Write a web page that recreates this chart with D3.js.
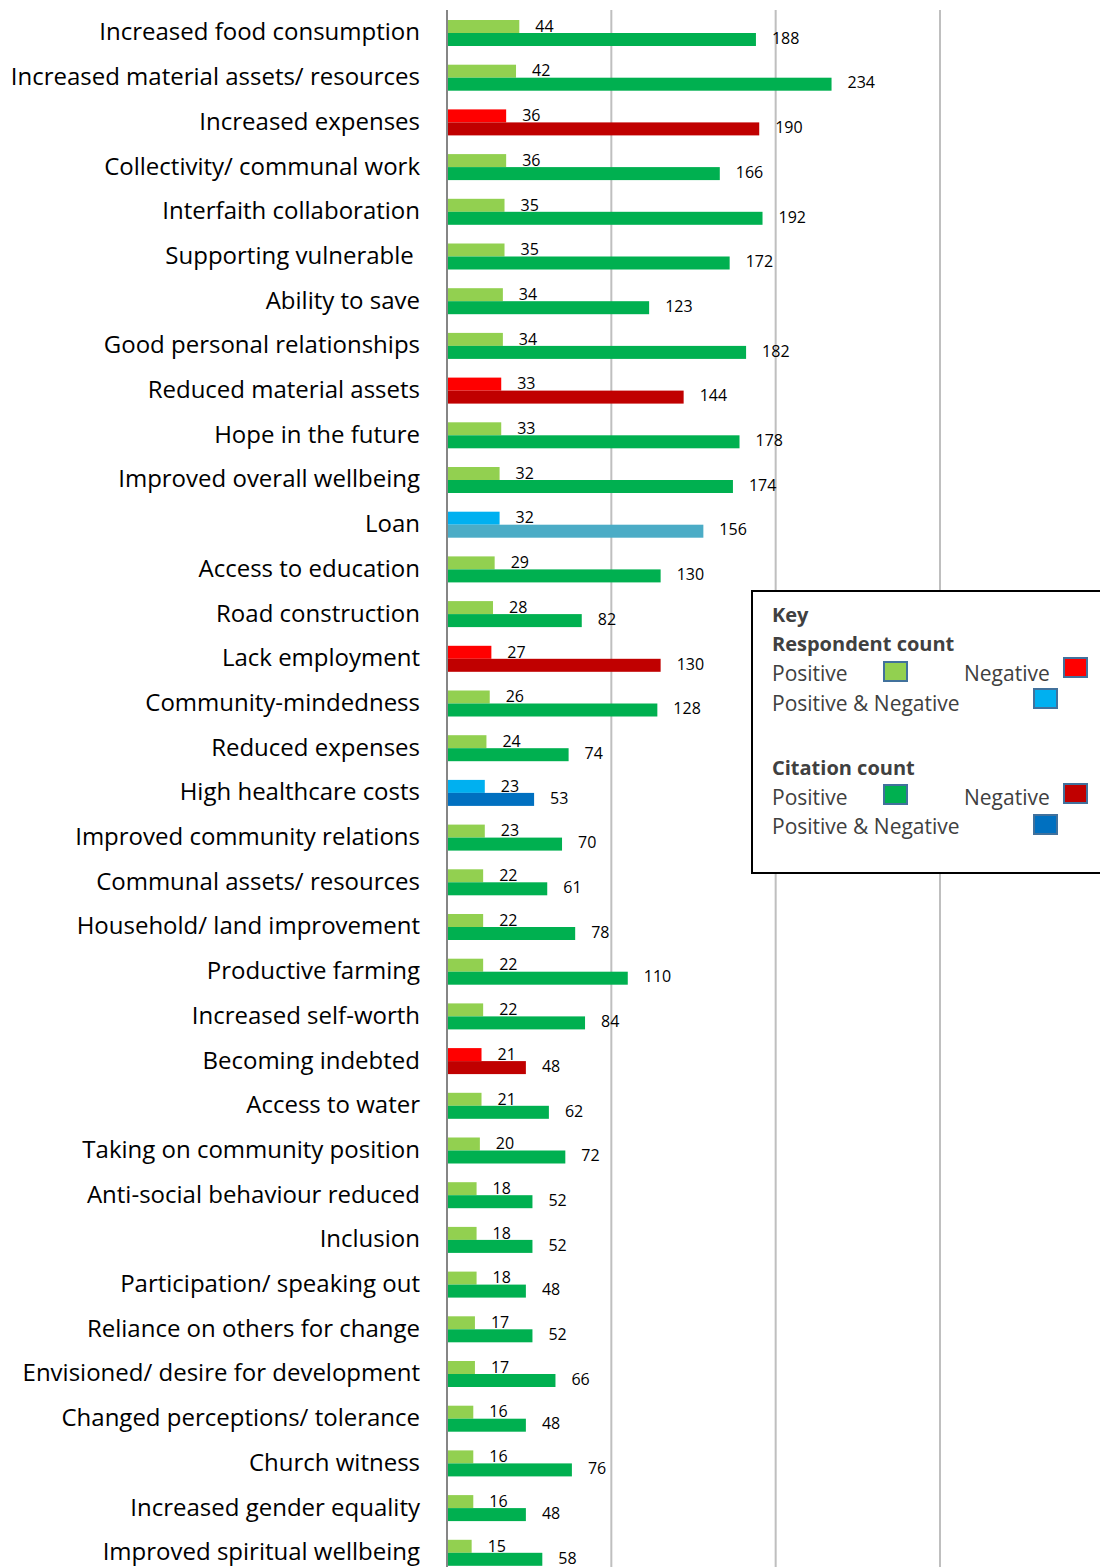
<!DOCTYPE html>
<html>
<head>
<meta charset="utf-8">
<script src="https://cdn.jsdelivr.net/npm/d3@7"></script>
<style>
  body { margin: 0; background: #fff; }
  svg { display: block; }
</style>
</head>
<body>
<div id="chart"></div>
<script>
const categories = [
  'Increased food consumption', 'Increased material assets/ resources', 'Increased expenses',
  'Collectivity/ communal work', 'Interfaith collaboration', 'Supporting vulnerable ',
  'Ability to save', 'Good personal relationships', 'Reduced material assets',
  'Hope in the future', 'Improved overall wellbeing', 'Loan', 'Access to education',
  'Road construction', 'Lack employment', 'Community-mindedness', 'Reduced expenses',
  'High healthcare costs', 'Improved community relations', 'Communal assets/ resources',
  'Household/ land improvement', 'Productive farming', 'Increased self-worth',
  'Becoming indebted', 'Access to water', 'Taking on community position',
  'Anti-social behaviour reduced', 'Inclusion', 'Participation/ speaking out',
  'Reliance on others for change', 'Envisioned/ desire for development',
  'Changed perceptions/ tolerance', 'Church witness', 'Increased gender equality',
  'Improved spiritual wellbeing'
];
const respondentCount = [44, 42, 36, 36, 35, 35, 34, 34, 33, 33, 32, 32, 29, 28, 27, 26, 24, 23,
  23, 22, 22, 22, 22, 21, 21, 20, 18, 18, 18, 17, 17, 16, 16, 16, 15];
const citationCount = [188, 234, 190, 166, 192, 172, 123, 182, 144, 178, 174, 156, 130, 82, 130,
  128, 74, 53, 70, 61, 78, 110, 84, 48, 62, 72, 52, 52, 48, 52, 66, 48, 76, 48, 58];
// p = positive, n = negative, b = positive & negative
const effectType = ['p', 'p', 'n', 'p', 'p', 'p', 'p', 'p', 'n', 'p', 'p', 'b', 'p', 'p', 'n', 'p',
  'p', 'b', 'p', 'p', 'p', 'p', 'p', 'n', 'p', 'p', 'p', 'p', 'p', 'p', 'p', 'p', 'p', 'p', 'p'];
const gridTicks = [100, 200, 300];

const respColor = {p: '#92D050', n: '#FF0000', b: '#00B0F0'};
const citeColor = {p: '#00B050', n: '#C00000', b: '#0070C0'};
const loanCiteColor = '#4BACC6';

const data = categories.map((c, i) => ({
  name: c, resp: respondentCount[i], cite: citationCount[i], type: effectType[i]
}));

const W = 1100, H = 1567;
const svg = d3.select('#chart').append('svg').attr('width', W).attr('height', H);

const x = d3.scaleLinear().domain([0, 300]).range([447, 940]);
const y = d3.scalePoint().domain(categories).range([33, 33 + 34 * 44.7]);
const barH = 13;

// gridlines
svg.append('g').selectAll('line').data(gridTicks).join('line')
  .attr('x1', d => x(d)).attr('x2', d => x(d))
  .attr('y1', 10).attr('y2', H)
  .attr('stroke', '#BFBFBF').attr('stroke-width', 2);

// axis line
svg.append('line')
  .attr('x1', x(0)).attr('x2', x(0)).attr('y1', 10).attr('y2', H)
  .attr('stroke', '#868686').attr('stroke-width', 2);

const rows = svg.append('g').selectAll('g').data(data).join('g')
  .attr('transform', d => `translate(0,${y(d.name)})`);

rows.append('rect')
  .attr('x', x(0) + 1).attr('y', -barH)
  .attr('width', d => x(d.resp) - x(0) - 1).attr('height', barH)
  .attr('fill', d => respColor[d.type]);

rows.append('rect')
  .attr('x', x(0) + 1).attr('y', 0)
  .attr('width', d => x(d.cite) - x(0) - 1).attr('height', barH)
  .attr('fill', d => d.name === 'Loan' ? loanCiteColor : citeColor[d.type]);

const font = '"Open Sans", sans-serif';
rows.append('text')
  .attr('x', d => x(d.resp) + 16).attr('y', -barH / 2 + 1)
  .attr('dominant-baseline', 'middle')
  .attr('font-family', font).attr('font-size', 16).attr('fill', '#000')
  .text(d => d.resp);

rows.append('text')
  .attr('x', d => x(d.cite) + 16).attr('y', barH / 2)
  .attr('dominant-baseline', 'middle')
  .attr('font-family', font).attr('font-size', 16).attr('fill', '#000')
  .text(d => d.cite);

rows.append('text')
  .attr('x', 420).attr('y', 1)
  .attr('text-anchor', 'end').attr('dominant-baseline', 'middle')
  .attr('font-family', font).attr('font-size', 24).attr('fill', '#000')
  .style('white-space', 'pre')
  .text(d => d.name);

// legend
const lg = svg.append('g');
lg.append('rect').attr('x', 752).attr('y', 591).attr('width', 360).attr('height', 282)
  .attr('fill', '#fff').attr('stroke', '#000').attr('stroke-width', 2);

const legendText = [
  {t: 'Key', x: 772, y: 617, bold: true},
  {t: 'Respondent count', x: 772, y: 646, bold: true},
  {t: 'Positive', x: 772, y: 675},
  {t: 'Negative', x: 964, y: 675},
  {t: 'Positive & Negative', x: 772, y: 705},
  {t: 'Citation count', x: 772, y: 770, bold: true},
  {t: 'Positive', x: 772, y: 799},
  {t: 'Negative', x: 964, y: 799},
  {t: 'Positive & Negative', x: 772, y: 828}
];
lg.selectAll('text').data(legendText).join('text')
  .attr('x', d => d.x).attr('y', d => d.y)
  .attr('dominant-baseline', 'middle')
  .attr('font-family', font)
  .attr('font-size', d => d.bold ? 20 : 21)
  .attr('font-weight', d => d.bold ? 'bold' : 'normal')
  .attr('fill', '#404040')
  .text(d => d.t);

const swatches = [
  {c: respColor.p, x: 884, y: 662}, {c: respColor.n, x: 1064, y: 658}, {c: respColor.b, x: 1034, y: 689},
  {c: citeColor.p, x: 884, y: 785}, {c: citeColor.n, x: 1064, y: 784}, {c: citeColor.b, x: 1034, y: 815}
];
lg.selectAll('rect.sw').data(swatches).join('rect').attr('class', 'sw')
  .attr('x', d => d.x).attr('y', d => d.y).attr('width', 23).attr('height', 19)
  .attr('fill', d => d.c).attr('stroke', '#41719C').attr('stroke-width', 2);
</script>
</body>
</html>
